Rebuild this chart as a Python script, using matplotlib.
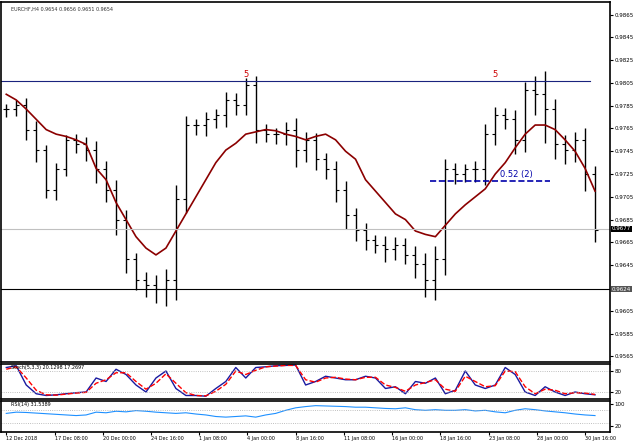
import matplotlib
matplotlib.use("Agg")
import matplotlib.pyplot as plt
import numpy as np

closes = [0.9782,0.9786,0.9764,0.9746,0.9711,0.9729,0.9755,0.9751,0.9746,0.9729,
          0.9711,0.9685,0.9650,0.9632,0.9628,0.9624,0.9632,0.9703,0.9768,0.9768,
          0.9773,0.9777,0.9790,0.9786,0.9803,0.9764,0.9760,0.9760,0.9764,0.9746,
          0.9755,0.9738,0.9729,0.9711,0.9689,0.9676,0.9667,0.9663,0.9659,0.9663,
          0.9654,0.9646,0.9632,0.9650,0.9729,0.9725,0.9729,0.9729,0.9760,0.9777,
          0.9773,0.9755,0.9799,0.9795,0.9782,0.9751,0.9746,0.9755,0.9725,0.9676]
ranges = [0.0012,0.0010,0.0015,0.0018,0.0012,0.0014,0.0010,0.0012,0.0016,0.0020,
          0.0018,0.0022,0.0020,0.0015,0.0018,0.0020,0.0025,0.0030,0.0020,0.0014,
          0.0016,0.0012,0.0018,0.0016,0.0015,0.0020,0.0012,0.0014,0.0016,0.0025,
          0.0018,0.0016,0.0014,0.0018,0.0020,0.0016,0.0014,0.0012,0.0018,0.0016,
          0.0014,0.0020,0.0025,0.0030,0.0022,0.0014,0.0012,0.0018,0.0022,0.0016,
          0.0014,0.0020,0.0018,0.0030,0.0050,0.0022,0.0020,0.0018,0.0025,0.0018]
ma = [0.9795,0.9790,0.9782,0.9773,0.9764,0.9760,0.9758,0.9755,0.9751,0.9730,
      0.9720,0.9700,0.9685,0.9670,0.9660,0.9654,0.9660,0.9675,0.9690,0.9705,
      0.9720,0.9735,0.9746,0.9752,0.9760,0.9762,0.9764,0.9763,0.9760,0.9758,
      0.9755,0.9758,0.9760,0.9755,0.9745,0.9738,0.9720,0.9710,0.9700,0.9690,
      0.9685,0.9675,0.9672,0.9670,0.9680,0.9690,0.9698,0.9705,0.9712,0.9725,
      0.9735,0.9748,0.9760,0.9768,0.9768,0.9764,0.9755,0.9745,0.9730,0.9710]
stoch_k = [90,95,40,15,10,12,15,18,20,60,50,85,70,40,20,60,80,30,10,10,
           8,30,50,90,60,90,92,95,96,97,40,50,65,60,55,55,65,60,30,35,
           15,50,45,60,15,25,80,40,30,40,90,70,20,10,35,20,10,20,15,12]
stoch_d = [85,92,60,25,12,11,14,17,19,45,55,75,75,50,28,45,72,45,18,10,
           9,22,42,80,70,82,92,94,96,96,55,48,60,62,57,55,62,62,40,33,
           22,40,47,55,28,22,65,50,35,38,80,78,35,15,28,25,15,18,17,13]
rsi = [60,64,63,61,59,57,55,53,55,64,62,67,65,69,67,64,62,60,62,58,
       55,50,48,50,52,48,55,60,70,78,82,85,84,83,82,80,80,78,76,75,
       78,72,70,72,70,70,72,68,70,65,62,70,75,72,68,65,62,58,55,53]
price_ticks = [0.9865,0.9845,0.9825,0.9805,0.9785,0.9765,0.9745,0.9725,0.9705,
               0.9685,0.9665,0.9645,0.9625,0.9605,0.9585,0.9565]
date_labels = ["12 Dec 2018","17 Dec 08:00","20 Dec 00:00","24 Dec 16:00","1 Jan 08:00",
               "4 Jan 00:00","8 Jan 16:00","11 Jan 08:00","16 Jan 00:00","18 Jan 16:00",
               "23 Jan 08:00","28 Jan 00:00","30 Jan 16:00"]
resistance, support, last_price = 0.9807, 0.9624, 0.9677

W, H = 640, 445
fig = plt.figure(figsize=(W/100, H/100), dpi=100)
def box(top, bot):
    return [0.002, 1-bot/H, 610/W-0.002, (bot-top)/H]
ax = fig.add_axes(box(2, 362))
ax2 = fig.add_axes(box(364, 399))
ax3 = fig.add_axes(box(401, 432))

x = np.arange(len(closes))
opens = [closes[0]] + closes[:-1]
for i, c in enumerate(closes):
    hi = max(c, opens[i]) + ranges[i]*0.4
    lo = min(c, opens[i]) - ranges[i]*0.6
    ax.vlines(i, lo, hi, color="black", lw=1.0)
    ax.hlines(opens[i], i-0.3, i, color="black", lw=0.8)
    ax.hlines(c, i, i+0.3, color="black", lw=0.8)
ax.plot(x, ma, color="#8b0000", lw=1.2)
ax.axhline(resistance, xmin=0, xmax=59/61, color="#1a237e", lw=0.8)
ax.axhline(support, color="black", lw=0.8)
ax.axhline(last_price, color="#c0c0c0", lw=0.8)
ax.hlines(0.9719, 42.5, 54.5, colors="#0000aa", linestyles="--", lw=1.2)
ax.text(49.5, 0.9722, "0.52 (2)", color="#0000aa", fontsize=6)
ax.text(23.8, 0.9810, "5", color="#cc0000", fontsize=6)
ax.text(48.7, 0.9810, "5", color="#cc0000", fontsize=6)
ax.text(0.5, 0.9868, "EURCHF,H4 0.9654 0.9656 0.9651 0.9654", fontsize=3.5, color="#333")
ax.set_ylim(0.9560, 0.9876)
ax.set_xlim(-0.5, 60.5)
ax.yaxis.tick_right()
ticks_shown = [p for p in price_ticks if abs(p-last_price) > 0.0006 and abs(p-support) > 0.0006]
ax.set_yticks(ticks_shown)
ax.set_yticklabels([f"{p:.4f}" for p in ticks_shown], fontsize=4)
ax.text(1.003, last_price, f"{last_price:.4f}", transform=ax.get_yaxis_transform(),
        fontsize=4, color="white", va="center", bbox=dict(fc="black", ec="none", pad=0.5))
ax.text(1.003, support, f"{support:.4f}", transform=ax.get_yaxis_transform(),
        fontsize=4, color="white", va="center", bbox=dict(fc="#555", ec="none", pad=0.5))
ax.set_xticks([])

ax2.plot(x, stoch_k, color="#1a1aa0", lw=1)
ax2.plot(x, stoch_d, color="red", lw=1, ls="--")
for lv in (80, 20):
    ax2.axhline(lv, color="#aaa", lw=0.6, ls=":")
ax2.set_ylim(0, 100); ax2.set_xlim(-0.5, 60.5)
ax2.yaxis.tick_right(); ax2.set_yticks([20, 80])
ax2.set_yticklabels(["20", "80"], fontsize=4)
ax2.set_xticks([])
ax2.text(0.5, 97, "Stoch(5,3,3) 20.1298 17.2697", fontsize=3.5, va="top")

ax3.plot(x, rsi, color="#1e90ff", lw=0.8)
for lv in (70, 30):
    ax3.axhline(lv, color="#aaa", lw=0.6, ls=":")
ax3.set_ylim(0, 100); ax3.set_xlim(-0.5, 60.5)
ax3.yaxis.tick_right(); ax3.set_yticks([20, 90])
ax3.set_yticklabels(["20", "100"], fontsize=4)
ax3.set_xticks(np.linspace(0, 58, len(date_labels)))
ax3.set_xticklabels(date_labels, fontsize=3.5, ha="left")
ax3.text(0.5, 97, "RSI(14) 31.5389", fontsize=3.5, va="top")
for a in (ax, ax2, ax3):
    a.tick_params(length=2, pad=1)
    for s in a.spines.values():
        s.set_linewidth(1.2)
fig.savefig("out.png", dpi=100)
